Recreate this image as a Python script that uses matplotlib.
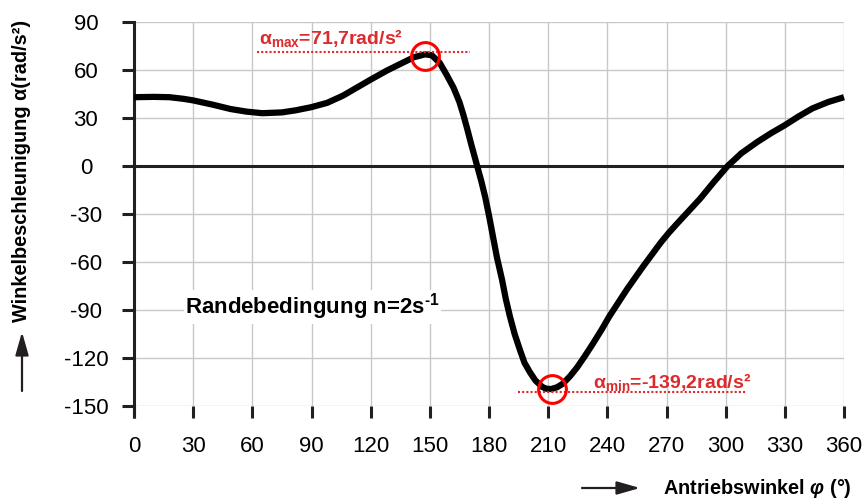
import matplotlib
matplotlib.use('Agg')
import matplotlib.pyplot as plt
from matplotlib.lines import Line2D

plt.rcParams['font.family'] = ['Liberation Sans', 'DejaVu Sans']
plt.rcParams['axes.unicode_minus'] = False
plt.rcParams['mathtext.fontset'] = 'custom'
plt.rcParams['mathtext.rm'] = 'Liberation Sans:bold'
plt.rcParams['mathtext.bf'] = 'Liberation Sans:bold'
plt.rcParams['mathtext.it'] = 'Liberation Sans:bold:italic'

# Antriebswinkel (°) und Winkelbeschleunigung (rad/s²)
phi = [0, 10, 18, 25, 30, 40, 49, 57, 65, 75, 82, 90, 98, 106, 113, 120,
       128, 137, 142, 147.6, 151, 155, 158.5, 162, 165, 167, 169, 171, 174,
       176, 178, 180, 182, 184, 186.6, 188.5, 190.6, 193, 195.7, 198, 200.8,
       203.5, 206.9, 209, 211.5, 214.5, 217.5, 221, 224.6, 228.5, 232.7, 237,
       241, 245.5, 250, 254, 258, 262.5, 267, 271, 275, 281, 287, 294, 301,
       308, 316, 323, 330, 337, 344, 352, 360]
alpha = [43, 43.2, 43, 42, 41, 38.3, 35.6, 34, 33, 33.5, 34.8, 36.8, 39.5,
         44, 49, 54, 59.5, 65, 68, 69.8, 69.2, 64.5, 57, 49, 40, 32, 23, 13.5,
         0, -9, -19, -31, -44, -57, -71, -83, -94, -105, -115, -123, -129,
         -134, -138, -139.2, -139.4, -138.3, -136, -131.5, -126, -119, -111,
         -102.5, -94, -85.5, -77, -70, -63, -55.5, -48, -42, -36.5, -28.5,
         -20.5, -10, 0, 8, 15, 20.5, 25.5, 31, 36, 40, 43]

x_ticks = list(range(0, 361, 30))
y_ticks = list(range(-150, 91, 30))

alpha_max = (147.6, 69.0)
alpha_min = (212.0, -139.4)
max_text = r'$\mathrm{α}_{\mathrm{max}}$=71,7rad/s²'
min_text = r'$\mathrm{α}_{\mathrm{min}}$=-139,2rad/s²'

dark = '#231f20'
red = '#dc2b2d'

fig = plt.figure(figsize=(8.63, 4.99), dpi=100)
ax = fig.add_axes([134 / 863, 1 - 406 / 499, 710 / 863, 384 / 499])

ax.set_xlim(0, 360)
ax.set_ylim(-150, 90)
ax.set_xticks(x_ticks)
ax.set_yticks(y_ticks)
ax.grid(True, color='#c8c8c8', lw=1.0)
ax.set_axisbelow(True)

for s in ['top', 'right', 'bottom']:
    ax.spines[s].set_visible(False)
ax.spines['left'].set_linewidth(2.2)
ax.spines['left'].set_color(dark)
# spine reaches down past the -150 line
ax.add_line(Line2D([0, 0], [0, -12 / 384], transform=ax.transAxes,
                   color=dark, lw=2.2, clip_on=False, solid_capstyle='butt'))

ax.tick_params(axis='both', direction='out', length=8.6, width=2.2,
               color=dark, labelsize=16)
ax.tick_params(axis='y', pad=26)
ax.tick_params(axis='x', pad=13)
for lab in ax.get_yticklabels():
    lab.set_horizontalalignment('center')

ax.axhline(0, color=dark, lw=2.2, zorder=2)

ax.plot(phi, alpha, color='black', lw=4.5, solid_joinstyle='round',
        solid_capstyle='butt', zorder=3, clip_on=False)

# Extremwerte
ax.plot([62.4, 170.4], [71.3, 71.3], color=red, lw=1.5, ls=(0, (1, 1)), zorder=4)
ax.plot([194.7, 311], [-141.5, -141.5], color=red, lw=1.5, ls=(0, (1, 1)), zorder=4)
for px, py in [alpha_max, alpha_min]:
    ax.plot(px, py, 'o', ms=20, mfc='none', mec='red', mew=2.2, zorder=5)
ax.text(63.4, 80, max_text, color=red, fontsize=14, fontweight='bold',
        ha='left', va='center')
ax.text(232.8, -135, min_text, color=red, fontsize=14, fontweight='bold',
        ha='left', va='center')

ax.text(26, -88, r'Randebedingung n=2s$^{\text{-1}}$', fontsize=16,
        fontweight='bold', ha='left', va='center',
        bbox=dict(facecolor='white', edgecolor='none', pad=1))

# Achsentitel mit Pfeilen
arrow = dict(arrowstyle='-|>,head_length=1.4,head_width=0.4',
             lw=1.6, color=dark, shrinkA=0, shrinkB=0)
fig.text(22 / 863, 1 - 171 / 499, 'Winkelbeschleunigung α(rad/s²)',
         rotation=90, fontsize=14.3, fontweight='bold', ha='center', va='center')
ax.annotate('', xy=(22, 499 - 332), xytext=(22, 499 - 391),
            xycoords='figure pixels', textcoords='figure pixels', arrowprops=arrow)
fig.text(663 / 863, 11 / 499, r'Antriebswinkel $φ$ (°)', fontsize=14.3,
         fontweight='bold', ha='left', va='center')
ax.annotate('', xy=(640, 11), xytext=(582, 11),
            xycoords='figure pixels', textcoords='figure pixels', arrowprops=arrow)

fig.savefig('out.png', dpi=100)
